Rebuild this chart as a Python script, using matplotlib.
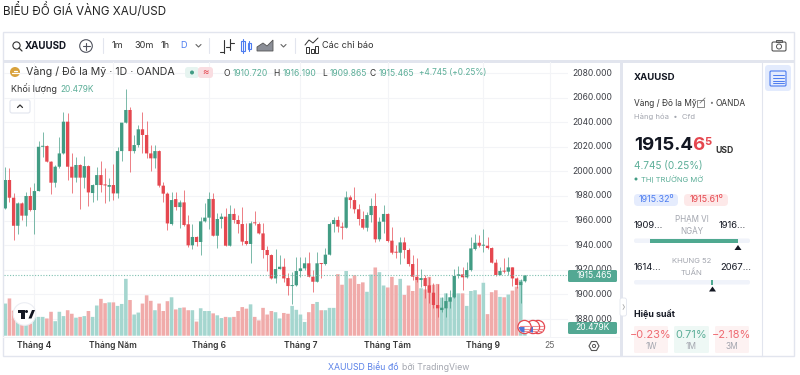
import matplotlib
matplotlib.use("Agg")
import matplotlib.pyplot as plt
from matplotlib.patches import Circle, FancyBboxPatch, Polygon, Rectangle, Wedge

plt.rcParams['font.family'] = ['Inter', 'Noto Sans', 'DejaVu Sans']

opens = [1969.9, 1993, 1978.6, 1955.8, 1974, 1964, 1980, 1968.6, 1984, 2020,
         2020.6, 2007.9, 1990.8, 2003.8, 2014.6, 2040.4, 2003.8, 1994.9, 2005.2, 1994.9,
         2004.3, 1982.4, 1988.9, 1997, 1989.4, 1987.5, 1988.9, 1982.1, 2016.5, 2039.6,
         2049.9, 2016.5, 2021.4, 2034.2, 2029.6, 2014.6, 2010.6, 2016.5, 1988.4, 1981.9,
         1957.2, 1977.5, 1971, 1974.8, 1957, 1939.9, 1946.7, 1942.6, 1959.4, 1962.4,
         1977.6, 1947.7, 1961.3, 1963.2, 1939.6, 1965.4, 1960.5, 1957.2, 1943.4, 1941,
         1958.3, 1957.2, 1949.6, 1936.1, 1932, 1913, 1920.6, 1922.5, 1913.3, 1906.8,
         1907.4, 1919, 1921.2, 1925.3, 1914.4, 1910.3, 1925.3, 1924.7, 1932.3, 1957.2,
         1960.5, 1955.1, 1954.2, 1978.9, 1976.7, 1969.2, 1961.3, 1954.2, 1964.5, 1971.9,
         1944.8, 1959.1, 1965.4, 1943.7, 1934.5, 1933.9, 1942.3, 1936.1, 1924.7, 1914.4,
         1911.7, 1913.3, 1907.4, 1901.4, 1891.4, 1887.3, 1888.7, 1894.1, 1897.6, 1915,
         1916.3, 1913.9, 1919.8, 1936.9, 1942, 1939.6, 1939.6, 1937.7, 1925.8, 1915.8,
         1919, 1918.5, 1922, 1913, 1907.6, 1910.72]
highs = [2003.8, 2003, 1982.1, 1975.4, 1975.4, 1983.5, 1987.5, 1990.3, 2024.7, 2032.3,
         2021.4, 2008.4, 2005.2, 2028.2, 2048.5, 2047.2, 2014.6, 2011.9, 2005.7, 2012.5,
         2005.2, 1989.4, 2003.8, 2008.4, 2002.4, 1994.9, 2005.7, 2020, 2039.6, 2067,
         2052.6, 2029.6, 2037.7, 2048, 2041.2, 2021.4, 2021.4, 2017.4, 1991.6, 1983.5,
         1983.5, 1982.9, 1976.7, 1984.8, 1964.5, 1957, 1947.5, 1963.2, 1974.6, 1983,
         1982.7, 1965.9, 1966.4, 1970, 1972.7, 1970, 1964.5, 1970.8, 1958.3, 1959.9,
         1967.8, 1959.1, 1957.8, 1939.3, 1932.6, 1936.6, 1932, 1929.9, 1917.1, 1918.5,
         1930.7, 1930.7, 1930.1, 1934.7, 1919.8, 1934.2, 1925.8, 1937.4, 1959.1, 1963.2,
         1963.7, 1959.1, 1984.3, 1980.8, 1987, 1973.5, 1967.8, 1966.7, 1978.1, 1982.2,
         1963.2, 1972.7, 1965.9, 1955.1, 1940.2, 1946.9, 1946.9, 1937.4, 1932, 1929.3,
         1920.6, 1915.8, 1914.4, 1909, 1908.2, 1898.2, 1900.9, 1903.6, 1920.4, 1923.1,
         1922, 1926.6, 1946.9, 1949.1, 1948.3, 1952.9, 1946.4, 1938.8, 1928.8, 1922.5,
         1929.3, 1930.1, 1922.5, 1913.9, 1912.2, 1916.19]
lows = [1969.4, 1975.4, 1944.2, 1949, 1960.4, 1955.8, 1968, 1949, 1984, 2011.9,
        2007.4, 1981.3, 1987.5, 2003, 2014, 1993, 1982.1, 1991.6, 1969.4, 1986.2,
        1972.1, 1974.8, 1976.7, 1983.5, 1974, 1976.2, 1976.7, 1978, 2008.4, 2039.6,
        1999.2, 2014.6, 2020, 2014.6, 2011.1, 2000.6, 2002.4, 1987.5, 1974.8, 1952,
        1956.4, 1968.6, 1953.7, 1955.8, 1938.8, 1936.6, 1939.6, 1931.8, 1959.1, 1953.2,
        1947.5, 1938, 1953.7, 1939.3, 1939.6, 1957.8, 1949.6, 1940.2, 1940.2, 1925.3,
        1956.4, 1949.1, 1929.6, 1919.3, 1912.2, 1909, 1920.6, 1910.3, 1899.5, 1892.2,
        1906.8, 1914.4, 1919.8, 1913.9, 1902.2, 1909.8, 1913, 1923.9, 1931.8, 1951,
        1951, 1945.3, 1954.2, 1970, 1965.9, 1956.4, 1953.2, 1951.8, 1959.1, 1942.9,
        1943.7, 1949.6, 1942.9, 1932.8, 1929.3, 1924.7, 1929.3, 1923.1, 1911.7, 1910.3,
        1906.3, 1896.8, 1892.7, 1888.7, 1881.9, 1886, 1881.9, 1888.7, 1896.8, 1913,
        1903.6, 1913.6, 1919.3, 1936.1, 1938.8, 1934.7, 1936.6, 1925.3, 1915.2, 1915.5,
        1917.7, 1915.8, 1907.1, 1904.9, 1892.7, 1909.865]
closes = [1993, 1978.6, 1955.8, 1974, 1964, 1980, 1968.6, 1984, 2020, 2020.6,
          2007.9, 1990.8, 2003.8, 2014.6, 2040.4, 2003.8, 1994.9, 2005.2, 1994.9, 2004.3,
          1982.9, 1988.9, 1997, 1988.9, 1988.6, 1988.9, 1982.1, 2016.5, 2039.6, 2049.9,
          2016.5, 2021.4, 2034.2, 2029.6, 2014.6, 2010.6, 2016.5, 1988.4, 1981.9, 1957.7,
          1976.7, 1971, 1974.8, 1956.4, 1939.9, 1946.7, 1942.6, 1959.4, 1962.4, 1977.6,
          1947.7, 1961.3, 1963.2, 1939.6, 1965.4, 1960.5, 1957.2, 1942.9, 1941, 1957.8,
          1957.8, 1949.6, 1936.1, 1932, 1913, 1920.6, 1922.5, 1913, 1906.8, 1907.4,
          1919, 1921.2, 1925.3, 1914.4, 1910.3, 1925.3, 1924.7, 1932.3, 1957.2, 1960.5,
          1955.1, 1954.2, 1978.9, 1976.7, 1969.2, 1961.3, 1954.2, 1964.5, 1971.9, 1944.8,
          1959.1, 1965.4, 1943.4, 1933.9, 1933.9, 1942.3, 1936.1, 1924.7, 1914.4, 1911.7,
          1913.3, 1906.8, 1901.4, 1891.4, 1888.7, 1889.2, 1894.6, 1897.6, 1915, 1916.3,
          1913.9, 1919.8, 1937.4, 1942, 1939.6, 1940.2, 1937.7, 1925.8, 1915.8, 1919,
          1918.5, 1922, 1913, 1907.6, 1910.3, 1915.465]
volumes = [82, 95, 64, 36, 27, 27, 31, 48, 48, 48,
           44, 61, 37, 61, 50, 65, 56, 46, 48, 50,
           63, 48, 77, 94, 83, 85, 85, 76, 81, 145,
           91, 54, 59, 82, 103, 89, 65, 82, 63, 88,
           98, 67, 71, 72, 65, 65, 36, 70, 63, 63,
           57, 52, 45, 48, 47, 48, 63, 73, 69, 80,
           48, 39, 71, 54, 63, 60, 44, 58, 56, 76,
           66, 54, 35, 60, 81, 86, 65, 65, 71, 71,
           157, 130, 165, 146, 154, 132, 136, 112, 156, 174,
           162, 128, 123, 150, 129, 145, 104, 128, 114, 142,
           121, 118, 150, 130, 132, 97, 108, 98, 108, 108,
           108, 76, 114, 116, 105, 135, 55, 111, 116, 99,
           98, 105, 115, 125, 142, 20.479]

month_pos = [7, 26, 49, 71, 92, 115, 131]
month_labels = ['Tháng 4', 'Tháng Năm', 'Tháng 6', 'Tháng 7', 'Tháng Tám', 'Tháng 9', '25']
price_levels = [2080, 2060, 2040, 2020, 2000, 1980, 1960, 1940, 1920, 1900, 1880]
last_price = 1915.465

UP = '#429c84'
DOWN = '#e5474f'
UP_VOL = '#a5d6cf'
DOWN_VOL = '#f0abaa'
GRID = '#f3f4f7'
BORDER = '#e2e5ee'
TEXT = '#131722'
GRAY = '#a3a6af'
SOFT_GREEN = '#5cae98'
BLUE = '#4c7cf0'

W, H = 800, 375
fig = plt.figure(figsize=(W / 100, H / 100), dpi=100, facecolor='white')


def px_box(x0, y0, x1, y1):
    return [x0 / W, 1 - y1 / H, (x1 - x0) / W, (y1 - y0) / H]


# background layer
bg = fig.add_axes([0, 0, 1, 1], zorder=0)
bg.set_xlim(0, W)
bg.set_ylim(H, 0)
bg.axis('off')
bg.add_patch(Rectangle((3, 32), 791, 324, fc='white', ec=BORDER, lw=1))
bg.add_patch(Rectangle((3, 60), 791, 2.5, fc=BORDER, ec='none'))
bg.add_patch(Rectangle((620, 60), 3, 296, fc=BORDER, ec='none'))
bg.add_patch(Rectangle((3, 337), 617, 0.8, fc=GRID, ec='none'))
bg.plot([761.7, 761.7], [62, 356], color=BORDER, lw=0.8)

# price chart
ax = fig.add_axes(px_box(4, 62, 568, 337), zorder=1)
ax.patch.set_alpha(0)
xs = list(range(len(closes)))
ax.set_xlim((4 - 5.3) / 4.157, (568 - 5.3) / 4.157)
ax.set_ylim(1865.4, 2088.9)
ax.set_yticks(price_levels)
ax.set_xticks(month_pos)
ax.grid(True, color=GRID, lw=0.8)
ax.set_axisbelow(True)
ax.tick_params(length=0, labelbottom=False, labelleft=False)
for s in ax.spines.values():
    s.set_visible(False)

# volume on its own scale, same box
vol = fig.add_axes(px_box(4, 62, 568, 337), zorder=2, sharex=ax)
vol.patch.set_alpha(0)
vol.set_ylim(-3.3, 698)
vol.axis('off')
vol_colors = [UP_VOL if c >= o else DOWN_VOL for o, c in zip(opens, closes)]
vol.bar(xs, volumes, width=0.86, color=vol_colors, lw=0, snap=False)
vol.set_xlim((4 - 5.3) / 4.157, (568 - 5.3) / 4.157)

# candles on top of volume
can = fig.add_axes(px_box(4, 62, 568, 337), zorder=3, sharex=ax)
can.patch.set_alpha(0)
can.set_ylim(1865.4, 2088.9)
can.axis('off')
colors = [UP if c >= o else DOWN for o, c in zip(opens, closes)]
can.vlines(xs, lows, highs, colors=colors, lw=0.7, alpha=0.7)
can.bar(xs, [max(abs(c - o), 0.8) for o, c in zip(opens, closes)],
        bottom=[min(o, c) for o, c in zip(opens, closes)],
        width=0.8, color=colors, lw=0, snap=False)
can.axhline(last_price, color='#7fc0b0', lw=0.8, ls=(0, (1, 1.5)))

# foreground layer with all the interface bits
ui = fig.add_axes([0, 0, 1, 1], zorder=5)
ui.patch.set_alpha(0)
ui.set_xlim(0, W)
ui.set_ylim(H, 0)
ui.axis('off')


def txt(x, y, s, size=7, color=TEXT, weight='normal', ha='left', z=6):
    ui.text(x, y, s, fontsize=size, color=color, fontweight=weight, ha=ha, va='center', zorder=z)


def pill(x0, y0, x1, y1, fc, r=2, ec='none', lw=0.8, z=4):
    ui.add_patch(FancyBboxPatch((x0 + r, y0 + r), x1 - x0 - 2 * r, y1 - y0 - 2 * r,
                                boxstyle=f'round,pad={r}', fc=fc, ec=ec, lw=lw, zorder=z))


def line(xv, yv, color='#50535e', lw=0.8, z=6):
    ui.plot(xv, yv, color=color, lw=lw, zorder=z, solid_capstyle='round')


txt(3, 11, 'BIỂU ĐỒ GIÁ VÀNG XAU/USD', size=8.4, color='#222')

# toolbar
ui.add_patch(Circle((16.5, 45.5), 3.6, fc='none', ec='#333', lw=0.8, zorder=6))
line([19, 22], [48, 51], '#333', 0.9)
txt(25, 46, 'XAUUSD', size=7, weight='bold')
ui.add_patch(Circle((86, 46), 6.3, fc='none', ec='#50535e', lw=0.8, zorder=6))
line([82.5, 89.5], [46, 46])
line([86, 86], [42.5, 49.5])
for xd in (103, 209, 295):
    line([xd, xd], [38, 53], BORDER, 0.8)
txt(112, 46, '1m', size=6.6, color='#333')
txt(134, 46, '30m', size=6.6, color='#333')
txt(161, 46, '1h', size=6.6, color='#333')
txt(180, 46, 'D', size=6.6, color=BLUE)
line([196, 198.5, 201], [44.5, 47, 44.5], '#666', 0.8)
line([281, 283.5, 286], [44.5, 47, 44.5], '#666', 0.8)
# bar style icons
line([224, 224], [40, 53], '#333', 0.8)
line([220, 224], [52, 52], '#333', 0.8)
line([230, 230], [39, 50], '#333', 0.8)
line([230, 234], [43, 43], '#333', 0.8)
line([226, 230], [47, 47], '#333', 0.8)
ui.add_patch(Rectangle((241, 41), 3.5, 10, fc='none', ec=BLUE, lw=0.8, zorder=6))
line([242.7, 242.7], [38.5, 53], BLUE)
ui.add_patch(Rectangle((247.5, 43), 3, 6, fc='none', ec=BLUE, lw=0.8, zorder=6))
line([249, 249], [41, 51], BLUE)
ui.add_patch(Polygon([(257, 51), (257, 47), (263, 43), (267, 46), (273, 40), (273, 51)],
                     fc='#8b8e97', ec='#555', lw=0.6, zorder=6))
# indicators icon
for xb, yb in ((306, 47), (310.5, 49), (315, 46)):
    ui.add_patch(Rectangle((xb, yb), 3, 53 - yb, fc='none', ec='#333', lw=0.7, zorder=6))
line([305, 309, 313, 318], [45, 40, 43, 38], '#333', 0.7)
txt(322, 46, 'Các chỉ báo', size=6.6, color='#333')
# camera
pill(772, 42, 786, 51, 'none', r=1.5, ec='#555', z=6)
ui.add_patch(Rectangle((776, 40), 6, 2, fc='none', ec='#555', lw=0.7, zorder=6))
ui.add_patch(Circle((779, 46.5), 2.5, fc='none', ec='#555', lw=0.7, zorder=6))

# legend row
ui.add_patch(Circle((15, 72), 5, fc='#d9a23c', ec='none', zorder=6))
line([11.5, 18.5], [73, 73], 'white', 0.9)
line([13.5, 16.5], [71, 71], 'white', 0.9)
txt(26, 72, 'Vàng / Đô la Mỹ · 1D · OANDA', size=7.65, color='#333')
pill(185, 67, 199, 78, '#e6f4f0', r=3)
pill(198, 67, 213, 78, '#f9dde1', r=3)
ui.add_patch(Circle((192, 72.5), 2, fc=UP, ec='none', zorder=6))
txt(205.5, 72.5, '≈', size=7, color=DOWN, ha='center')
for xl, xv, lab, val in ((224, 233, 'O', '1910.720'), (273, 282.5, 'H', '1916.190'),
                         (322.5, 329.5, 'L', '1909.865'), (370, 378.5, 'C', '1915.465')):
    txt(xl, 73, lab, size=6.1, color='#333')
    txt(xv, 73, val, size=6.1, color=SOFT_GREEN)
txt(419, 73, '+4.745 (+0.25%)', size=5.9, color=SOFT_GREEN)
txt(11, 89, 'Khối lượng', size=6.5, color='#333')
txt(60, 89, '20.479K', size=6, color=SOFT_GREEN)
pill(10, 100, 30, 113, 'white', r=2, ec=BORDER, lw=0.8)
line([17.5, 20, 22.5], [107.5, 105, 107.5], '#333', 0.9)

# tradingview badge
ui.add_patch(Circle((24.5, 314), 11.3, fc='white', ec='#eceef3', lw=0.8, zorder=6))
ui.add_patch(Polygon([(17.5, 310), (25, 310), (25, 318.5), (21, 318.5), (21, 313), (17.5, 313)],
                     fc='#131722', ec='none', zorder=7))
ui.add_patch(Circle((26.5, 311.5), 1.5, fc='#131722', ec='none', zorder=7))
ui.add_patch(Polygon([(28.5, 318.5), (32, 310), (35, 310), (31.5, 318.5)], fc='#131722', ec='none', zorder=7))

# flags on the time axis
for cx in (538, 533, 524.5):
    ui.add_patch(Circle((cx, 327), 6.6, fc='white', ec=DOWN, lw=0.9, zorder=6))
    for dy in (-1, 1.5, 4):
        line([cx - 4.5, cx + 4.5], [327 + dy, 327 + dy], '#ee8d92', 0.8, z=6)
    ui.add_patch(Wedge((cx, 327), 5.6, 90, 180, fc='#4c76d8', ec='none', zorder=6))

# price scale
for lvl in price_levels:
    ypx = 73 + (2080 - lvl) * 1.23
    txt(612.5, ypx, f'{lvl:.3f}', size=6.1, color='#3d3f46', ha='right')
pill(568, 270, 617, 282, '#53a893', r=1.5, z=7)
txt(612.5, 276, '1915.465', size=6.1, color='white', ha='right', z=8)
pill(568, 322, 617, 334, '#53a893', r=1.5, z=7)
txt(610, 328, '20.479K', size=6.1, color='white', ha='right', z=8)

# time axis labels
for pos, lab in zip(month_pos, month_labels):
    xpx = 5.3 + pos * 4.157
    if lab == '25':
        txt(xpx, 346, lab, size=6.1, color='#666', ha='center')
    else:
        txt(xpx, 346, lab, size=6.1, color='#333', weight='semibold', ha='center')
ui.add_patch(Polygon([(589, 346), (591.5, 341.5), (596.5, 341.5), (599, 346), (596.5, 350.5), (591.5, 350.5)],
                     fc='none', ec='#555', lw=0.8, zorder=6))
ui.add_patch(Circle((594, 346), 1.6, fc='none', ec='#555', lw=0.7, zorder=6))

# side panel
txt(634, 78, 'XAUUSD', size=6.9, weight='bold')
txt(634, 103, 'Vàng / Đô la Mỹ', size=6, color='#333')
ui.add_patch(Rectangle((697, 99.5), 6.5, 7, fc='none', ec='#777', lw=0.6, zorder=6))
line([700, 705], [103, 98], '#777', 0.6)
txt(709, 103, '•', size=5, color='#777')
txt(715, 103, 'OANDA', size=6, color='#333')
txt(634, 117, 'Hàng hóa  •  Cfd', size=5.5, color=GRAY)
txt(634, 145, '1915.4', size=13.5, weight='bold')
txt(692.5, 145, '6', size=13.5, color=DOWN, weight='bold')
txt(704, 142, '5', size=8, color=DOWN, weight='bold')
txt(715, 150.5, 'USD', size=6.2, weight='bold', color='#333')
txt(634, 166, '4.745 (0.25%)', size=7.2, color=SOFT_GREEN)
ui.add_patch(Circle((636, 179), 1.5, fc=UP, ec='none', zorder=6))
txt(641, 179, 'THỊ TRƯỜNG MỞ', size=5.5, color=SOFT_GREEN)
pill(634, 194, 678, 206, '#e5ecfd', r=4)
pill(684, 194, 728, 206, '#fde9e9', r=4)
txt(656, 200, '1915.32⁰', size=6.4, color=BLUE, ha='center')
txt(706, 200, '1915.61⁰', size=6.4, color=DOWN, ha='center')

txt(634, 225.5, '1909...', size=6.8)
txt(719, 225.5, '1916...', size=6.8)
txt(691.5, 219.5, 'PHẠM VI', size=5.8, color=GRAY, ha='center')
txt(691.5, 231, 'NGÀY', size=5.8, color=GRAY, ha='center')
pill(634, 238.5, 750, 243, '#f0f3fa', r=2)
ui.add_patch(Rectangle((650, 238.5), 88, 4.5, fc='#4fa990', ec='none', zorder=5))
ui.add_patch(Polygon([(734.5, 250), (738, 245), (741.5, 250)], fc=TEXT, ec='none', zorder=6))

txt(634, 267, '1614...', size=6.8)
txt(720, 267, '2067...', size=6.8)
txt(691.5, 261, 'KHUNG 52', size=5.6, color=GRAY, ha='center')
txt(691.5, 272, 'TUẦN', size=5.6, color=GRAY, ha='center')
pill(634, 280, 750, 284.5, '#f0f3fa', r=2)
ui.add_patch(Rectangle((711, 280), 2, 4.5, fc='#4fa990', ec='none', zorder=5))
ui.add_patch(Polygon([(709, 291.5), (712.5, 286.5), (716, 291.5)], fc=TEXT, ec='none', zorder=6))

pill(620, 298, 626.5, 316, 'white', r=2, ec=BORDER, lw=0.6)
line([623, 624.5, 623], [304.5, 307, 309.5], '#aaa', 0.6)

txt(634, 314.5, 'Hiệu suất', size=6.4, weight='bold')
for x0, x1, fc, col, v, lab in ((634, 668, '#fdf2f2', '#ef6a72', '−0.23%', '1W'),
                                (674, 709, '#eef8f5', SOFT_GREEN, '0.71%', '1M'),
                                (715, 749, '#fdf2f2', '#ef6a72', '−2.18%', '3M')):
    pill(x0, 326, x1, 353, fc, r=1.5)
    txt((x0 + x1) / 2, 334.5, v, size=7.9, color=col, ha='center')
    txt((x0 + x1) / 2, 346.5, lab, size=6, color=GRAY, ha='center')

pill(765, 65, 791, 91, '#e3ebfd', r=3.5)
pill(770, 71, 786, 86, 'none', r=1.2, ec=BLUE, lw=0.8, z=6)
for yl in (74.5, 77.5, 80.5, 83):
    line([772.5, 783.5], [yl, yl], BLUE, 0.7)

# credit
txt(328, 367.5, 'XAUUSD Biểu đồ', size=6.3, color='#5b82e8')
txt(402, 367.5, 'bởi TradingView', size=6.3, color=GRAY)

fig.savefig('out.png', dpi=100)
